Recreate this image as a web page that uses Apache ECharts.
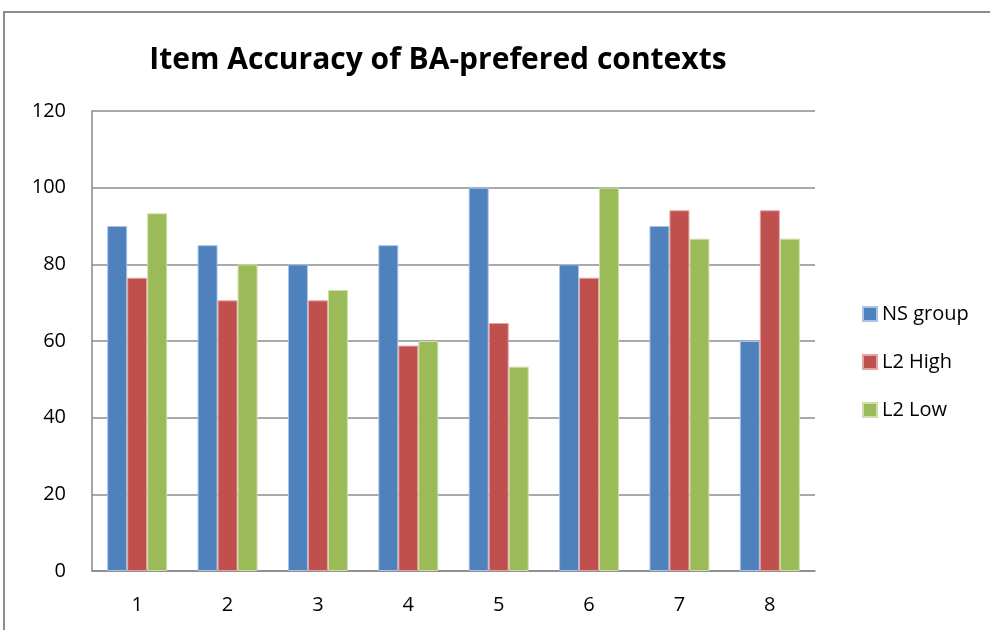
<!DOCTYPE html>
<html>
<head>
<meta charset="utf-8">
<script src="https://cdn.jsdelivr.net/npm/echarts@6/dist/echarts.min.js"></script>
<style>
    html, body { margin: 0; padding: 0; background: #fff; }
    #chart { width: 990px; height: 630px; }
</style>
</head>
<body>
<div id="chart"></div>
<script>
// 题目编号
var items = ['1', '2', '3', '4', '5', '6', '7', '8'];
// 各组正确率
var nsGroup = [90, 85, 80, 85, 100, 80, 90, 60];
var l2High = [76.5, 70.6, 70.6, 58.8, 64.7, 76.5, 94.1, 94.1];
var l2Low = [93.3, 80, 73.3, 60, 53.3, 100, 86.7, 86.7];
var yTicks = [0, 20, 40, 60, 80, 100, 120];

var chart = echarts.init(document.getElementById('chart'));

var fontName = 'Open Sans';

function barSeries(name, data, color, edge) {
    return {
        name: name,
        type: 'bar',
        data: data,
        barWidth: 20,
        barGap: '0%',
        itemStyle: {
            color: color,
            borderColor: edge,
            borderWidth: 1
        }
    };
}

var option = {
    animation: false,
    backgroundColor: '#ffffff',
    graphic: [{
        type: 'rect',
        shape: { x: 4, y: 12, width: 1100, height: 800 },
        style: { fill: 'none', stroke: '#8c8c8c', lineWidth: 2 },
        silent: true
    }],
    title: {
        text: 'Item Accuracy of BA-prefered contexts',
        left: 433,
        top: 40,
        textAlign: 'center',
        textStyle: {
            fontFamily: fontName,
            fontSize: 30,
            fontWeight: 'bold',
            color: '#000'
        }
    },
    legend: {
        orient: 'vertical',
        left: 857,
        top: 299,
        itemWidth: 14,
        itemHeight: 14,
        itemGap: 28,
        icon: 'rect',
        textStyle: {
            fontFamily: fontName,
            fontSize: 20,
            color: '#000'
        },
        data: ['NS group', 'L2 High', 'L2 Low']
    },
    grid: {
        left: 92,
        right: 175,
        top: 111,
        bottom: 59
    },
    xAxis: {
        type: 'category',
        data: items,
        axisLine: { lineStyle: { color: '#888', width: 1.5 } },
        axisTick: { show: false },
        axisLabel: {
            fontFamily: fontName,
            fontSize: 20,
            color: '#000',
            margin: 24
        }
    },
    yAxis: {
        type: 'value',
        min: yTicks[0],
        max: yTicks[yTicks.length - 1],
        interval: 20,
        axisLine: { show: true, lineStyle: { color: '#888', width: 1.5 } },
        axisTick: { show: false },
        axisLabel: {
            fontFamily: fontName,
            fontSize: 20,
            color: '#000',
            margin: 26
        },
        splitLine: { lineStyle: { color: '#8c8c8c', width: 1.5 } }
    },
    series: [
        barSeries('NS group', nsGroup, '#4f81bd', '#a9c4e6'),
        barSeries('L2 High', l2High, '#c0504d', '#e5a3a1'),
        barSeries('L2 Low', l2Low, '#9bbb59', '#cde0a8')
    ]
};

chart.setOption(option);
</script>
</body>
</html>
